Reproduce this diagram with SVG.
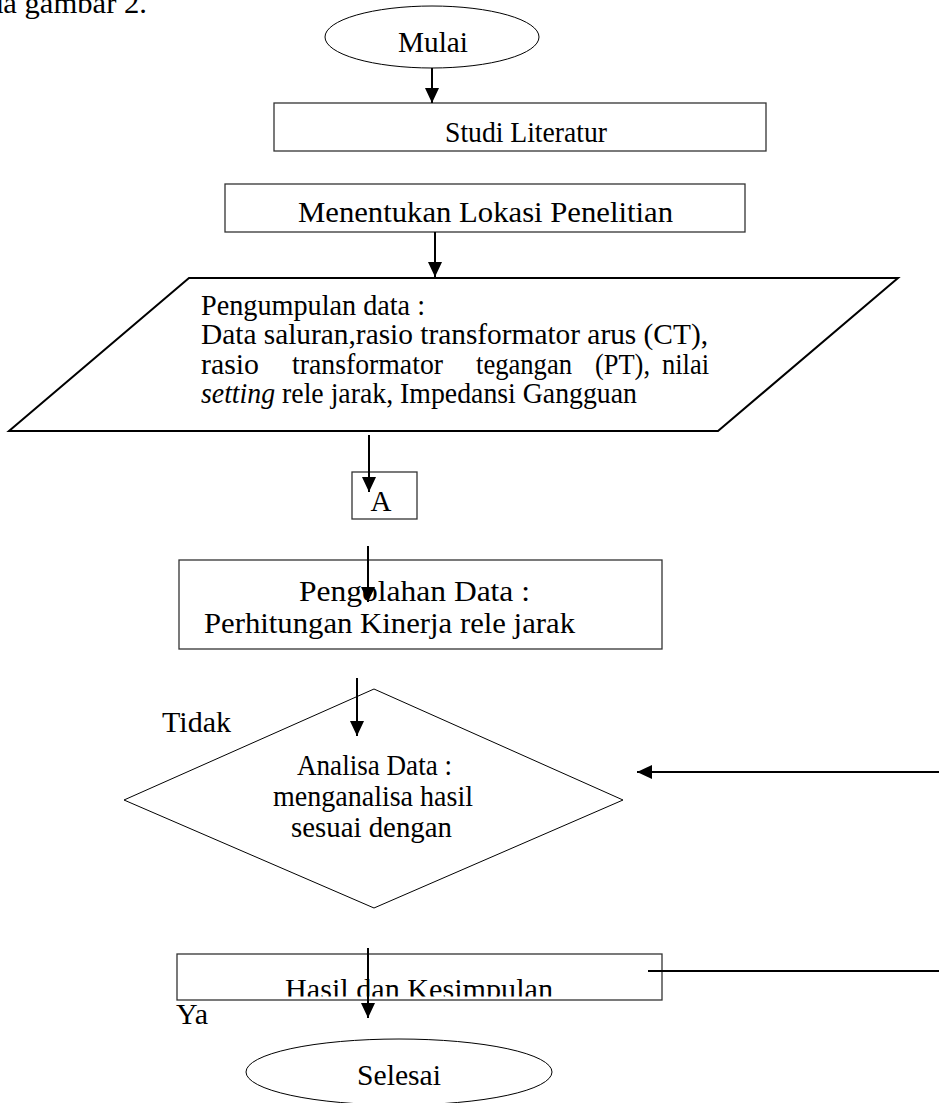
<svg xmlns="http://www.w3.org/2000/svg" width="939" height="1103" viewBox="0 0 939 1103">
<style>
  text { font-family: "Liberation Serif", "Times New Roman", serif; font-size: 29px; fill: #000; }
  .box { fill: #fff; stroke: #333; stroke-width: 1.3; }
  .thin { fill: #fff; stroke: #000; stroke-width: 1; }
  .thick { fill: #fff; stroke: #000; stroke-width: 2; }
  .conn { stroke: #000; stroke-width: 2; fill: none; }
</style>
<defs>
  <marker id="arr" markerUnits="userSpaceOnUse" markerWidth="15" markerHeight="14" refX="15" refY="7" orient="auto">
    <path d="M0,0 L15,7 L0,14 z" fill="#000"/>
  </marker>
  <clipPath id="clipHasil"><rect x="170" y="940" width="500" height="56.5"/></clipPath>
</defs>
<rect width="939" height="1103" fill="#fff"/>

<text x="-12" y="13" font-size="29" textLength="159" lengthAdjust="spacingAndGlyphs">da gambar 2.</text>

<g id="mulai">
  <ellipse class="thin" cx="432" cy="37" rx="107" ry="31"/>
  <text x="398" y="52" textLength="70" lengthAdjust="spacingAndGlyphs">Mulai</text>
</g>

<g id="studi">
  <rect class="box" x="274" y="103" width="492" height="48"/>
  <text x="445" y="142" font-size="28" textLength="162" lengthAdjust="spacingAndGlyphs">Studi Literatur</text>
</g>

<g id="lokasi">
  <rect class="box" x="225" y="184" width="520" height="48"/>
  <text x="298" y="222" textLength="375" lengthAdjust="spacingAndGlyphs">Menentukan Lokasi Penelitian</text>
</g>

<g id="pengumpulan">
  <polygon class="thick" points="189,278 898,278 718,431 9,431"/>
  <text x="201" y="315" font-size="28" textLength="224" lengthAdjust="spacingAndGlyphs">Pengumpulan data :</text>
  <text x="201" y="344" font-size="28" textLength="507" lengthAdjust="spacingAndGlyphs">Data saluran,rasio transformator arus (CT),</text>
  <text y="374" font-size="28">
    <tspan x="201" textLength="58" lengthAdjust="spacingAndGlyphs">rasio</tspan>
    <tspan x="292" textLength="151" lengthAdjust="spacingAndGlyphs">transformator</tspan>
    <tspan x="476" textLength="96" lengthAdjust="spacingAndGlyphs">tegangan</tspan>
    <tspan x="595" textLength="55" lengthAdjust="spacingAndGlyphs">(PT),</tspan>
    <tspan x="662" textLength="47" lengthAdjust="spacingAndGlyphs">nilai</tspan>
  </text>
  <text x="201" y="403" font-size="28" textLength="436" lengthAdjust="spacingAndGlyphs"><tspan font-style="italic">setting</tspan> rele jarak, Impedansi Gangguan</text>
</g>

<g id="a">
  <rect class="box" x="352" y="472" width="65" height="47"/>
  <text x="381" y="511" text-anchor="middle">A</text>
</g>

<g id="pengolahan">
  <rect class="box" x="179" y="560" width="483" height="89"/>
  <text x="299" y="601" textLength="231" lengthAdjust="spacingAndGlyphs">Pengolahan Data :</text>
  <text x="204" y="633" textLength="371" lengthAdjust="spacingAndGlyphs">Perhitungan Kinerja rele jarak</text>
</g>

<g id="analisa">
  <polygon class="thin" points="374,689 623,800 374,908 124,800"/>
  <text x="297" y="775" font-size="28" textLength="155" lengthAdjust="spacingAndGlyphs">Analisa Data :</text>
  <text x="273" y="806" font-size="28" textLength="200" lengthAdjust="spacingAndGlyphs">menganalisa hasil</text>
  <text x="291" y="837" font-size="28" textLength="161" lengthAdjust="spacingAndGlyphs">sesuai dengan</text>
</g>

<g id="hasil">
  <rect class="box" x="177" y="954" width="485" height="46"/>
  <g clip-path="url(#clipHasil)">
    <text x="285" y="999" font-size="34" textLength="268" lengthAdjust="spacingAndGlyphs">Hasil dan Kesimpulan</text>
  </g>
</g>

<g id="selesai">
  <ellipse class="thin" cx="399" cy="1072" rx="153" ry="33"/>
  <text x="357" y="1085" textLength="84" lengthAdjust="spacingAndGlyphs">Selesai</text>
</g>

<g id="labels">
  <text x="162" y="732" textLength="69" lengthAdjust="spacingAndGlyphs">Tidak</text>
  <text x="176" y="1024" textLength="32" lengthAdjust="spacingAndGlyphs">Ya</text>
</g>

<g id="connectors">
  <line class="conn" x1="432" y1="68" x2="432" y2="103" marker-end="url(#arr)"/>
  <line class="conn" x1="435" y1="232" x2="435" y2="277" marker-end="url(#arr)"/>
  <line class="conn" x1="369" y1="435" x2="369" y2="492" marker-end="url(#arr)"/>
  <line class="conn" x1="368" y1="546" x2="368" y2="602" marker-end="url(#arr)"/>
  <line class="conn" x1="357" y1="678" x2="357" y2="736" marker-end="url(#arr)"/>
  <line class="conn" x1="939" y1="772" x2="637" y2="772" marker-end="url(#arr)"/>
  <line class="conn" x1="368" y1="948" x2="368" y2="1018" marker-end="url(#arr)"/>
  <line class="conn" x1="648" y1="971" x2="939" y2="971"/>
</g>
</svg>
